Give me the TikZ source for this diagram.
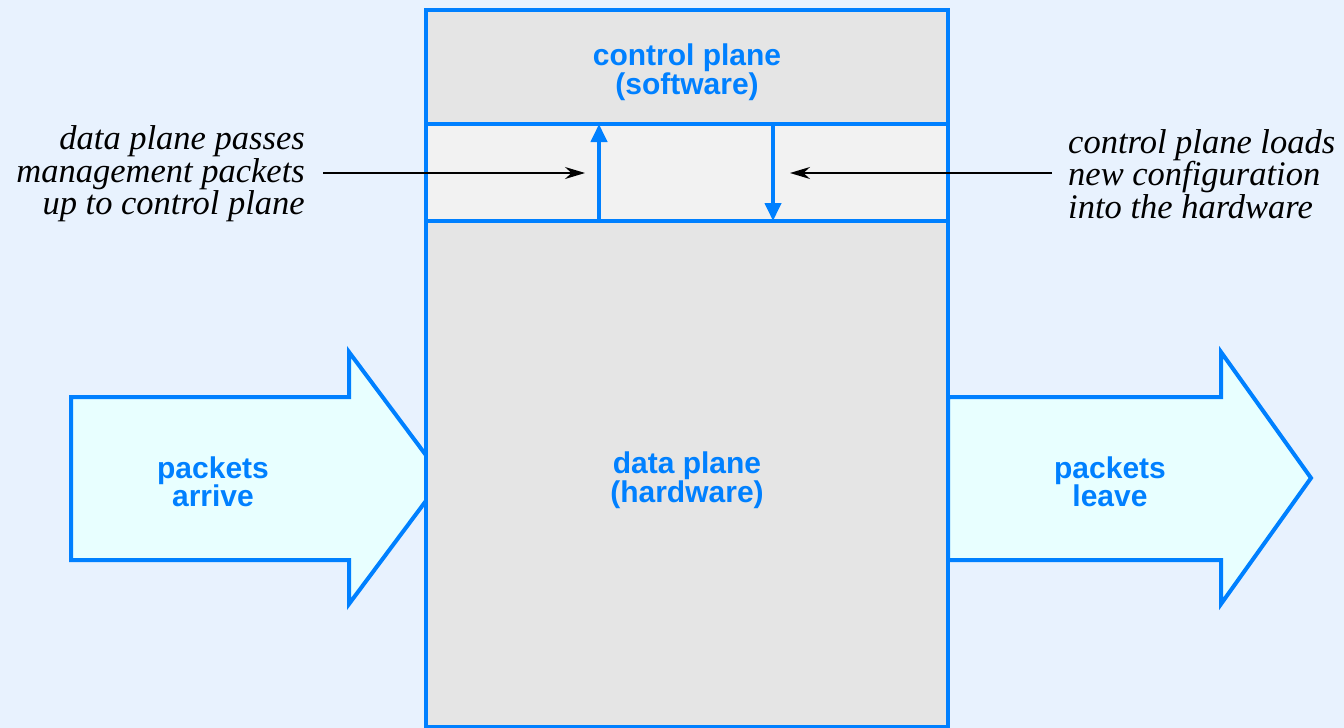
\documentclass[tikz,border=0pt]{standalone}
\usepackage{fontspec}
\setmainfont{Liberation Serif}
\setsansfont{Liberation Sans}
\usetikzlibrary{arrows.meta}
\definecolor{bg}{HTML}{E8F2FE}
\definecolor{pblue}{HTML}{0080FF}
\definecolor{boxgray}{HTML}{E5E5E5}
\definecolor{bandgray}{HTML}{F2F2F2}
\definecolor{arrowfill}{HTML}{E8FFFF}
\begin{document}
\begin{tikzpicture}[x=1pt,y=-1pt,
 blueline/.style={draw=pblue,line width=4pt},
 bluelabel/.style={text=pblue,font=\sffamily\bfseries\fontsize{30}{28.5}\selectfont,align=center,inner sep=0pt},
 note/.style={font=\itshape\fontsize{34.5}{32.5}\selectfont,inner sep=0pt},
 ptr/.style={-{Stealth[length=20pt,width=12pt]},line width=1.5pt,black},
 flow/.style={-{Triangle[length=18pt,width=16pt]},draw=pblue,line width=4pt},
 bigarrow/.style={fill=arrowfill,draw=pblue,line width=4pt,line join=miter}]
\fill[bg] (0,0) rectangle (1344,728);
\useasboundingbox (0,0) rectangle (1344,728);
% left big arrow (tip hidden behind the box)
\draw[bigarrow] (71,397) -- (349,397) -- (349,352) -- (443,478) -- (349,604) -- (349,560) -- (71,560) -- cycle;
% main box
\fill[boxgray] (426,10) rectangle (948,727);
\fill[bandgray] (426,124) rectangle (948,221);
\draw[blueline] (426,124) -- (948,124);
\draw[blueline] (426,221) -- (948,221);
\draw[blueline] (426,10) rectangle (948,727);
% right big arrow
\draw[bigarrow] (948,397) -- (1221,397) -- (1221,352) -- (1311,478) -- (1221,604) -- (1221,560) -- (948,560) -- cycle;
% coordinates
\coordinate (upS) at (599,221);
\coordinate (upE) at (599,124);
\coordinate (dnS) at (773,124);
\coordinate (dnE) at (773,221);
\coordinate (lS) at (323,173);
\coordinate (lE) at (585,173);
\coordinate (rS) at (1052,173);
\coordinate (rE) at (790,173);
\draw[flow] (upS) -- (upE);
\draw[flow] (dnS) -- (dnE);
\draw[ptr] (lS) -- (lE);
\draw[ptr] (rS) -- (rE);
% labels
\node[bluelabel] (cp) at (687,72) {control plane\\(software)};
\node[bluelabel] (dp) at (687,480) {data plane\\(hardware)};
\node[bluelabel] (pa) at (213,482) {packets\\arrive};
\node[bluelabel] (pl) at (1110,482) {packets\\leave};
\node[note,align=right,anchor=east] (ln) at (305,174) {data plane passes\\management packets\\up to control plane};
\node[note,align=left,anchor=west] (rn) at (1068,174) {control plane loads\\new configuration\\into the hardware};
\end{tikzpicture}
\end{document}
